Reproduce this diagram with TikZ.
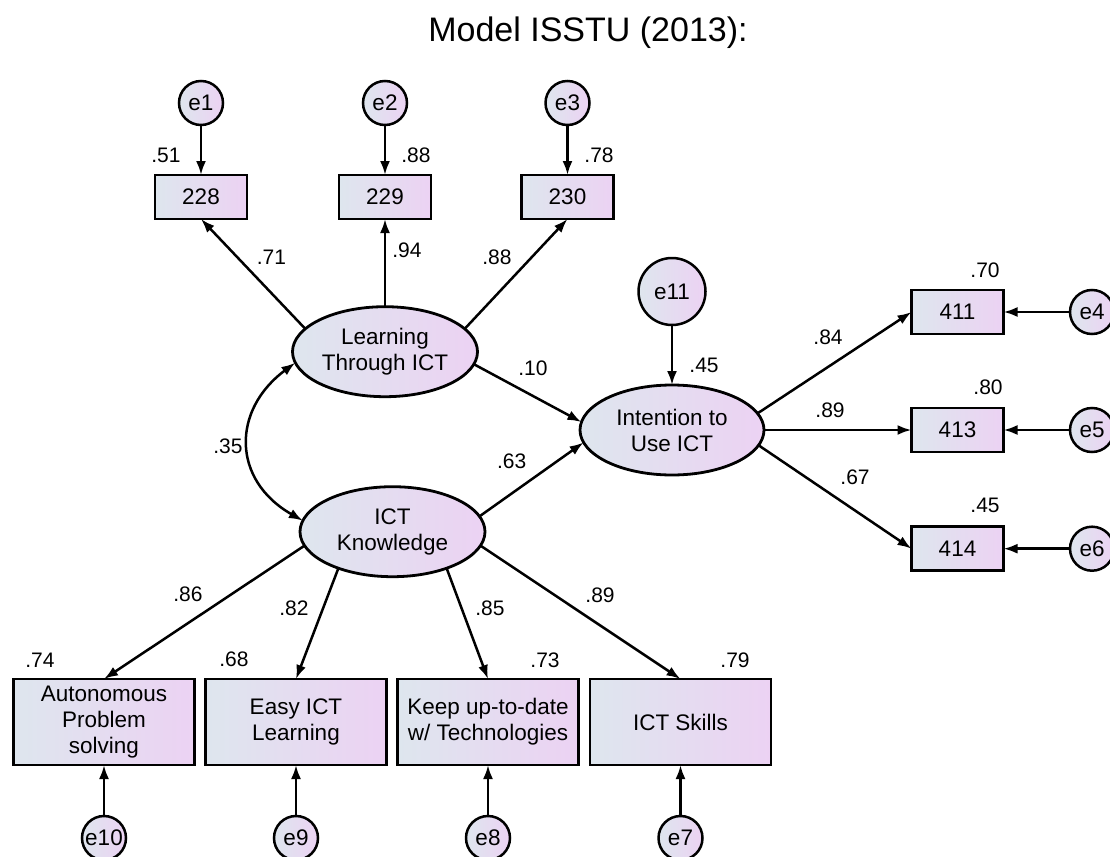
\documentclass[tikz,border=0pt]{standalone}
\usepackage{fontspec}
\setmainfont{Liberation Sans}
\usetikzlibrary{arrows.meta,shapes.geometric}
\definecolor{cL}{RGB}{222,230,238}
\definecolor{cR}{RGB}{236,210,243}
\begin{document}
\begin{tikzpicture}[x=1pt,y=-1pt,
  every node/.style={font=\fontsize{22.5}{26}\selectfont, text=black},
  obs/.style={draw, line width=2.8pt, rectangle, left color=cL, right color=cR, inner sep=0pt, outer sep=0pt, align=center},
  lat/.style={draw, line width=2.8pt, ellipse, left color=cL, right color=cR, minimum width=185pt, minimum height=90pt, inner sep=0pt, outer sep=0pt, align=center},
  err/.style={draw, circle, line width=2.5pt, left color=cL, right color=cR, minimum size=44pt, inner sep=0pt, outer sep=0pt},
  pth/.style={line width=2.5pt, -{Latex[length=14pt,width=10pt]}},
  dpth/.style={line width=2.5pt, {Latex[length=14pt,width=10pt]}-{Latex[length=14pt,width=10pt]}},
  lbl/.style={font=\fontsize{21}{24}\selectfont}
]
\useasboundingbox (0,0) rectangle (1110,856);
\fill[white] (0,0) rectangle (1110,856);

% title
\node[font=\fontsize{34}{40}\selectfont] (title) at (588,33) {Model ISSTU (2013):};

% top indicators
\node[obs, minimum width=92pt, minimum height=44pt] (b228) at (201,197) {228};
\node[obs, minimum width=92pt, minimum height=44pt] (b229) at (385,197) {229};
\node[obs, minimum width=92pt, minimum height=44pt] (b230) at (567.5,197) {230};
\node[err] (e1) at (201,103) {e1};
\node[err] (e2) at (385,103) {e2};
\node[err] (e3) at (567.5,103) {e3};

% latent variables
\node[lat] (L) at (385,351.7) {Learning\\Through ICT};
\node[lat] (K) at (392.5,531.7) {ICT\\Knowledge};
\node[lat, minimum width=184pt] (I) at (672,430) {Intention to\\Use ICT};
\node[err, minimum size=67pt] (e11) at (672,291.5) {e11};

% right indicators
\node[obs, minimum width=92pt, minimum height=44pt] (b411) at (957.5,312) {411};
\node[obs, minimum width=92pt, minimum height=44pt] (b413) at (957.5,430) {413};
\node[obs, minimum width=92pt, minimum height=44pt] (b414) at (957.5,548.7) {414};
\node[err] (e4) at (1092,312) {e4};
\node[err] (e5) at (1092,430) {e5};
\node[err] (e6) at (1092,548.7) {e6};

% bottom indicators
\node[obs, minimum width=181pt, minimum height=86pt] (bA) at (104,722) {Autonomous\\Problem\\solving};
\node[obs, minimum width=181pt, minimum height=86pt] (bE) at (296,722) {Easy ICT\\Learning};
\node[obs, minimum width=181pt, minimum height=86pt] (bK) at (488,722) {Keep up-to-date\\w/ Technologies};
\node[obs, minimum width=181pt, minimum height=86pt] (bS) at (680.5,722) {ICT Skills};
\node[err] (e10) at (104,838) {e10};
\node[err] (e9) at (296,838) {e9};
\node[err] (e8) at (488,838) {e8};
\node[err] (e7) at (680.5,838) {e7};

% error paths
\draw[pth] (e1) -- (b228);
\draw[pth] (e2) -- (b229);
\draw[pth] (e3) -- (b230);
\draw[pth] (e11) -- (I);
\draw[pth] (e4) -- (b411);
\draw[pth] (e5) -- (b413);
\draw[pth] (e6) -- (b414);
\draw[pth] (e10) -- (bA);
\draw[pth] (e9) -- (bE);
\draw[pth] (e8) -- (bK);
\draw[pth] (e7) -- (bS);

% loadings
\draw[pth] (L.164.4) -- (b228.south);
\draw[pth] (L.90) -- (b229.south);
\draw[pth] (L.16.2) -- (b230.south);
\draw[pth] (L.-8.4) -- (I.175.5);
\draw[pth] (K.10.8) -- (I.188);
\draw[pth] (I.11.3) -- (b411.west);
\draw[pth] (I.0) -- (b413.west);
\draw[pth] (I.-10.7) -- (b414.west);
\draw[pth] (K.189.1) -- (bA.north);
\draw[pth] (K.214) -- (bE.north);
\draw[pth] (K.-34) -- (bK.north);
\draw[pth] (K.-9.1) -- (bS.north);
\draw[dpth] (L.187) .. controls (231.6,410) and (231.6,480) .. (K.173.7);

% labels
\node[lbl] (l51) at (166,155) {.51};
\node[lbl] (l88a) at (416,155) {.88};
\node[lbl] (l78) at (599,155) {.78};
\node[lbl] (l71) at (271.5,257) {.71};
\node[lbl] (l94) at (407,250) {.94};
\node[lbl] (l88b) at (497,257) {.88};
\node[lbl] (l10) at (533,368) {.10};
\node[lbl] (l63) at (511.7,461.7) {.63};
\node[lbl] (l35) at (228,446) {.35};
\node[lbl] (l45a) at (704,365) {.45};
\node[lbl] (l84) at (828,337) {.84};
\node[lbl] (l89a) at (830,410) {.89};
\node[lbl] (l67) at (855,477) {.67};
\node[lbl] (l70) at (985,270) {.70};
\node[lbl] (l80) at (988,387) {.80};
\node[lbl] (l45b) at (985,505) {.45};
\node[lbl] (l86) at (188,594) {.86};
\node[lbl] (l82) at (294,608) {.82};
\node[lbl] (l85) at (490,608) {.85};
\node[lbl] (l89b) at (600,595) {.89};
\node[lbl] (l74) at (40,660) {.74};
\node[lbl] (l68) at (234,659) {.68};
\node[lbl] (l73) at (545,660) {.73};
\node[lbl] (l79) at (735,660) {.79};
\end{tikzpicture}
\end{document}
